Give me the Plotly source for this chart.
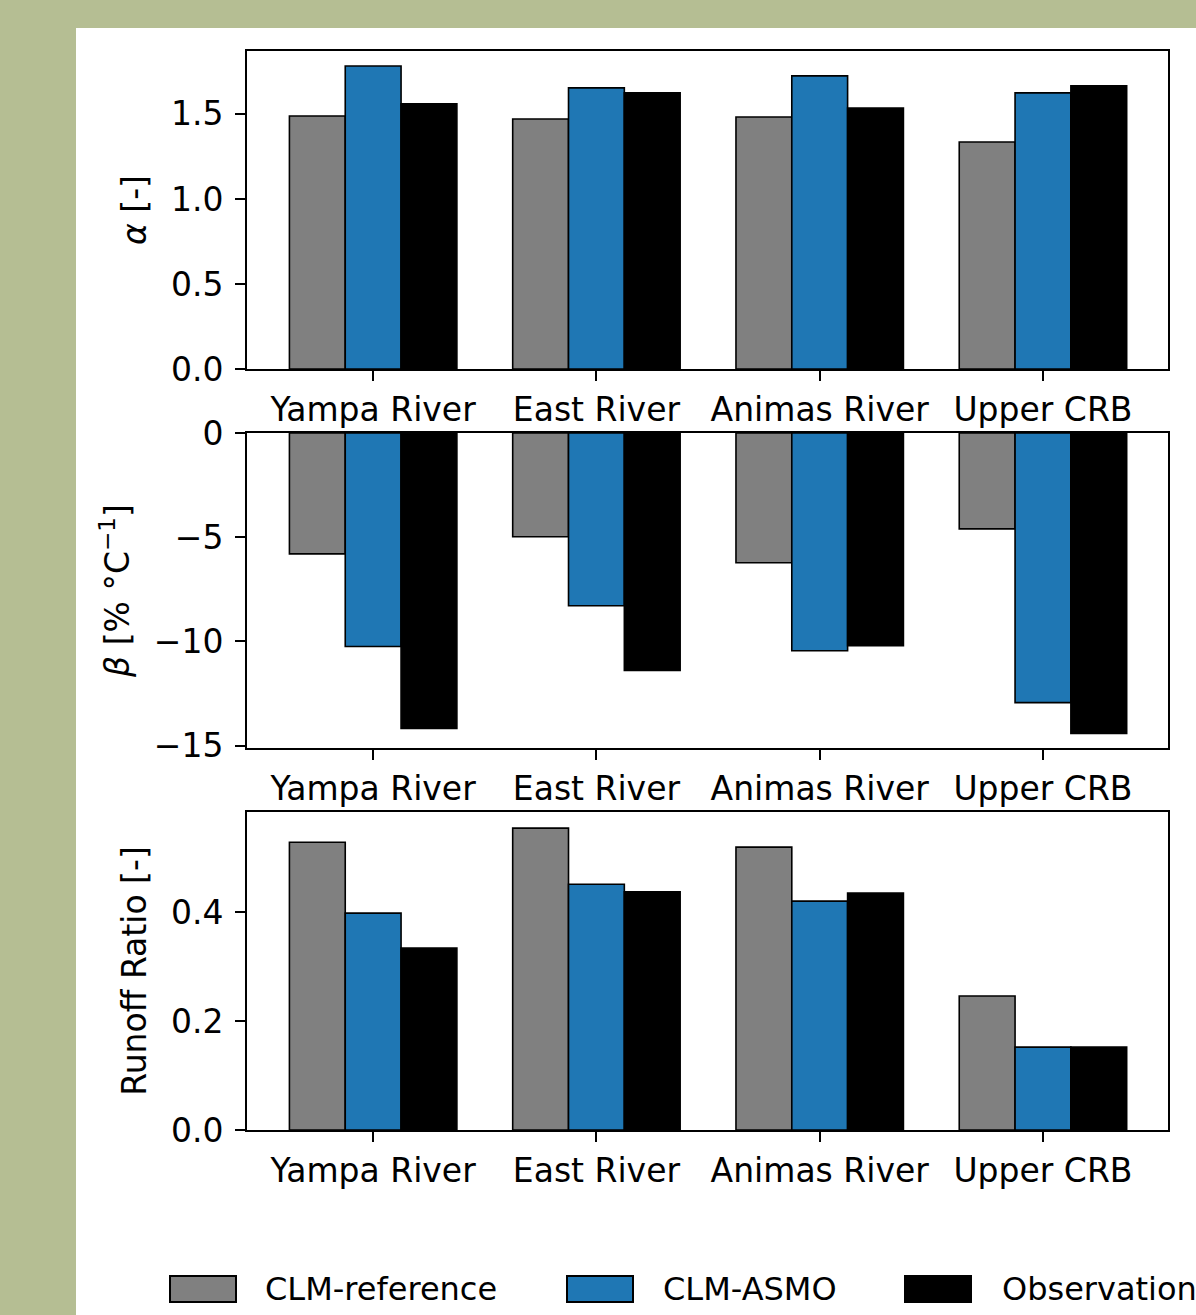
import plotly.graph_objects as go

W, H = 1196, 1315

categories = ["Yampa River", "East River", "Animas River", "Upper CRB"]
series_names = ["CLM-reference", "CLM-ASMO", "Observation"]
series_colors = ["#808080", "#1f77b4", "#000000"]

alpha_ref = [1.488, 1.470, 1.482, 1.335]
alpha_asmo = [1.782, 1.653, 1.724, 1.624]
alpha_obs = [1.559, 1.624, 1.535, 1.665]

beta_ref = [-5.80, -4.98, -6.23, -4.60]
beta_asmo = [-10.25, -8.29, -10.45, -12.94]
beta_obs = [-14.18, -11.40, -10.21, -14.42]

rr_ref = [0.528, 0.554, 0.519, 0.246]
rr_asmo = [0.398, 0.451, 0.420, 0.152]
rr_obs = [0.334, 0.437, 0.435, 0.152]

alpha_ticks = [0.0, 0.5, 1.0, 1.5]
beta_ticks = [0, -5, -10, -15]
rr_ticks = [0.0, 0.2, 0.4]

panels = [
    ([alpha_ref, alpha_asmo, alpha_obs], "<i>α</i> [-]", alpha_ticks, [0, 1.87], ".1f"),
    ([beta_ref, beta_asmo, beta_obs], "<i>β</i> [% °C<sup>−1</sup>]", beta_ticks, [-15.12, 0], "d"),
    ([rr_ref, rr_asmo, rr_obs], "Runoff Ratio [-]", rr_ticks, [0, 0.5835], ".1f"),
]

# pixel layout (top, bottom) of each panel
panel_px = [(51, 369), (433, 748), (812, 1130)]
x_px = (247, 1168)

FONT = "DejaVu Sans"
FS = 33

fig = go.Figure()
for i, (vals, title, ticks, rng, fmt) in enumerate(panels):
    ax = "" if i == 0 else str(i + 1)
    for s, (name, col) in enumerate(zip(series_names, series_colors)):
        fig.add_trace(go.Bar(
            x=list(range(len(categories))), y=vals[s], name=name,
            marker=dict(color=col, line=dict(color="black", width=1.6)),
            xaxis="x" + ax, yaxis="y" + ax, showlegend=False,
            offsetgroup=str(s),
        ))
    top, bot = panel_px[i]
    fig.layout["xaxis" + ax] = dict(
        domain=[x_px[0] / W, x_px[1] / W], anchor="y" + ax,
        range=[-0.565, 3.56], tickmode="array",
        tickvals=list(range(len(categories))), ticktext=categories,
        showline=True, mirror=True, linecolor="black", linewidth=2,
        ticks="outside", ticklen=10, tickwidth=2, tickcolor="black",
        showgrid=False, zeroline=False, automargin=False,
        tickfont=dict(family=FONT, size=FS, color="black"),
    )
    fig.layout["yaxis" + ax] = dict(
        domain=[1 - bot / H, 1 - top / H], anchor="x" + ax,
        range=rng, tickmode="array", tickvals=ticks, tickformat=fmt,
        showline=True, mirror=True, linecolor="black", linewidth=2,
        ticks="outside", ticklen=10, tickwidth=2, tickcolor="black",
        ticklabelstandoff=5, automargin=False,
        showgrid=False, zeroline=False,
        tickfont=dict(family=FONT, size=FS, color="black"),
        title=dict(text=title, standoff=14, font=dict(family=FONT, size=FS, color="black")),
    )

# white figure area over olive background
fig.add_shape(type="rect", xref="paper", yref="paper",
              x0=76 / W, x1=1.0, y0=0, y1=1 - 28 / H,
              fillcolor="white", line=dict(width=0), layer="below")

# custom legend
leg_items = [(170, 263), (567, 661), (905, 1000)]
for (px, tx), name, col in zip(leg_items, series_names, series_colors):
    fig.add_shape(type="rect", xref="paper", yref="paper",
                  x0=px / W, x1=(px + 66) / W, y0=1 - 1302 / H, y1=1 - 1276 / H,
                  fillcolor=col, line=dict(color="black", width=2))
    fig.add_annotation(x=tx / W, y=1 - 1289 / H, xref="paper", yref="paper",
                       text=name, showarrow=False, xanchor="left", yanchor="middle",
                       font=dict(family=FONT, size=FS - 1, color="black"))

fig.update_layout(
    width=W, height=H, margin=dict(l=0, r=0, t=0, b=0, autoexpand=False),
    paper_bgcolor="#b5be93", plot_bgcolor="white",
    barmode="group", bargap=0.25, bargroupgap=0,
    showlegend=False,
)

fig.write_html(
    "out.html",
    config={"displayModeBar": False},
    post_script="document.body.style.margin='0';document.body.style.overflow='hidden';"
                "document.body.style.background='#b5be93';",
)
